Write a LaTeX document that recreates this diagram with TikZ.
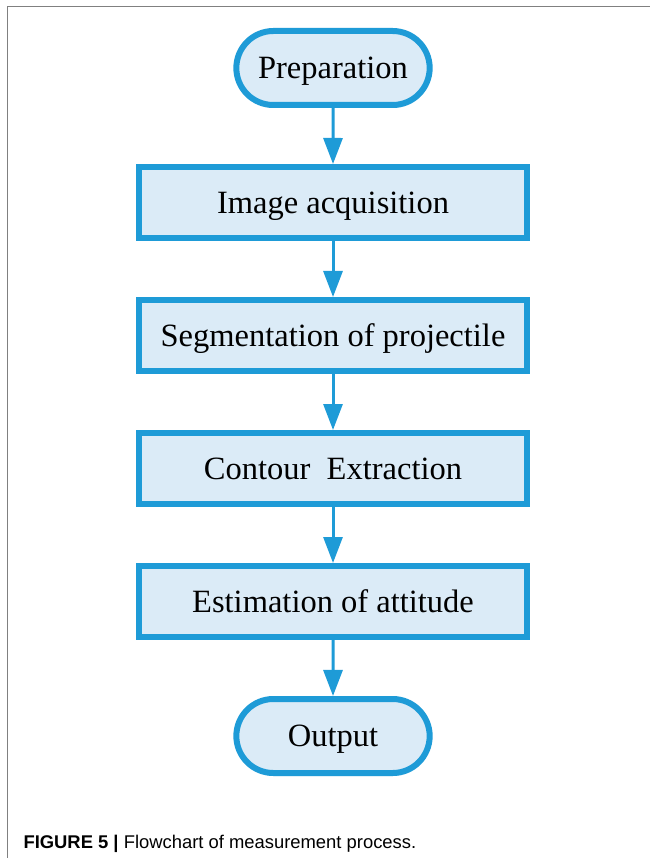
\documentclass[tikz,border=0pt]{standalone}
\usepackage{fontspec}
\setmainfont{Liberation Serif}
\newfontfamily\captionfont{Liberation Sans}
\usetikzlibrary{arrows.meta, positioning, shadows, shapes.misc}
\definecolor{flowblue}{RGB}{30,155,215}
\definecolor{flowfill}{RGB}{219,235,247}
\tikzstyle{flowchart}=[x=1pt, y=-1pt, node distance=56pt, >={Triangle[length=26pt,width=19pt]}]
\tikzstyle{process}=[draw=flowblue, line width=6pt, fill=flowfill, minimum width=388pt, minimum height=71pt,
  text height=21.5pt, text depth=0pt, font=\fontsize{32.5}{39}\selectfont,
  drop shadow={shadow xshift=1pt, shadow yshift=-3pt, opacity=.18, fill=flowblue}]
\tikzstyle{terminal}=[process, rounded rectangle, minimum width=200pt, minimum height=74pt]
\tikzstyle{flow}=[color=flowblue, line width=3pt]

\begin{document}
\begin{tikzpicture}[flowchart]
  \useasboundingbox (0,0) rectangle (650,858);
  \draw[gray, line width=1.5pt] (7.5,858) -- (7.5,6.5) -- (650,6.5);
  \node[terminal] (0) at (333,68) {Preparation};
  \node[process] (1) [below=of 0] {Image acquisition};
  \node[process] (2) [below=of 1] {Segmentation of projectile};
  \node[process] (3) [below=of 2] {Contour~~Extraction};
  \node[process] (4) [below=of 3] {Estimation of attitude};
  \node[terminal] (5) [below=of 4] {Output};
  \path[flow, ->] (0) edge (1);
  \path[flow, ->] (1) edge (2);
  \path[flow, ->] (2) edge (3);
  \path[flow, ->] (3) edge (4);
  \path[flow, ->] (4) edge (5);
  \node[anchor=base west, font=\captionfont\fontsize{18.4}{22}\selectfont] (caption) at (20,848)
    {\textbf{FIGURE 5 |} Flowchart of measurement process.};
\end{tikzpicture}
\end{document}
